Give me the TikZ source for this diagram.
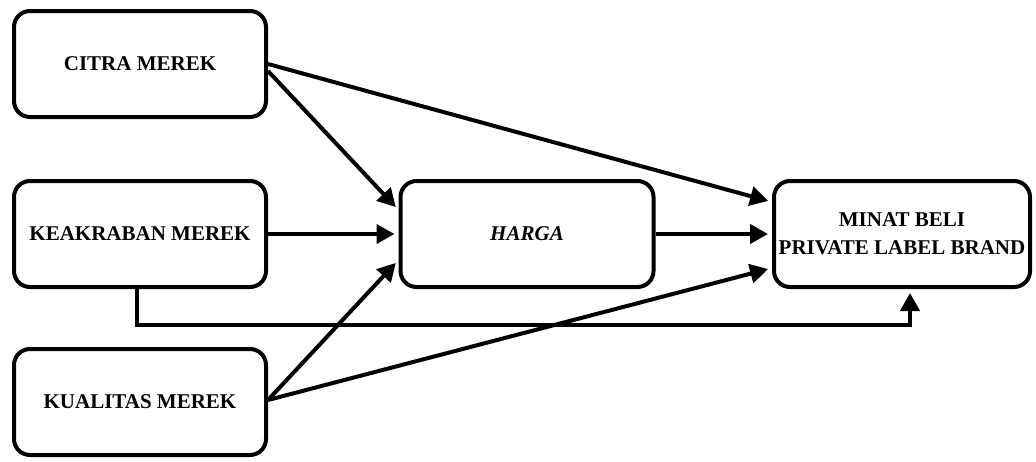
\documentclass[tikz,border=0pt]{standalone}
\usepackage{fontspec}
\setmainfont{Liberation Serif}
\usetikzlibrary{arrows.meta}
\begin{document}
\begin{tikzpicture}[x=1pt,y=-1pt,
  box/.style={draw,line width=4pt,rounded corners=16pt,minimum width=252pt,minimum height=106pt,inner sep=0pt,align=center,font=\fontsize{21}{28}\selectfont\bfseries},
  arr/.style={line width=4pt,-{Triangle[length=18pt,width=19pt]},shorten >=4pt}]
\useasboundingbox (0,0) rectangle (1036,461);
\node[box] (citra) at (140,64) {CITRA MEREK};
\node[box] (keak) at (140,234) {KEAKRABAN MEREK};
\node[box] (kual) at (140,402) {KUALITAS MEREK};
\node[box,minimum width=253pt] (harga) at (527,234) {\itshape HARGA};
\node[box,minimum width=256pt] (minat) at (902,234) {MINAT BELI\\PRIVATE LABEL BRAND};
\coordinate (turn) at (910,325);
\draw[arr] ([yshift=0pt]citra.east) -- ([yshift=32pt]minat.west);
\draw[arr] ([yshift=-7pt]citra.east) -- ([yshift=24pt]harga.west);
\draw[arr] (keak.east) -- (harga.west);
\draw[arr] ([yshift=2pt]kual.east) -- ([yshift=-26pt]harga.west);
\draw[arr] ([yshift=2pt]kual.east) -- ([yshift=-34pt]minat.west);
\draw[arr] (harga.east) -- (minat.west);
\draw[arr] ([xshift=-3pt]keak.south) |- (turn) -- (turn |- minat.south);
\end{tikzpicture}
\end{document}
